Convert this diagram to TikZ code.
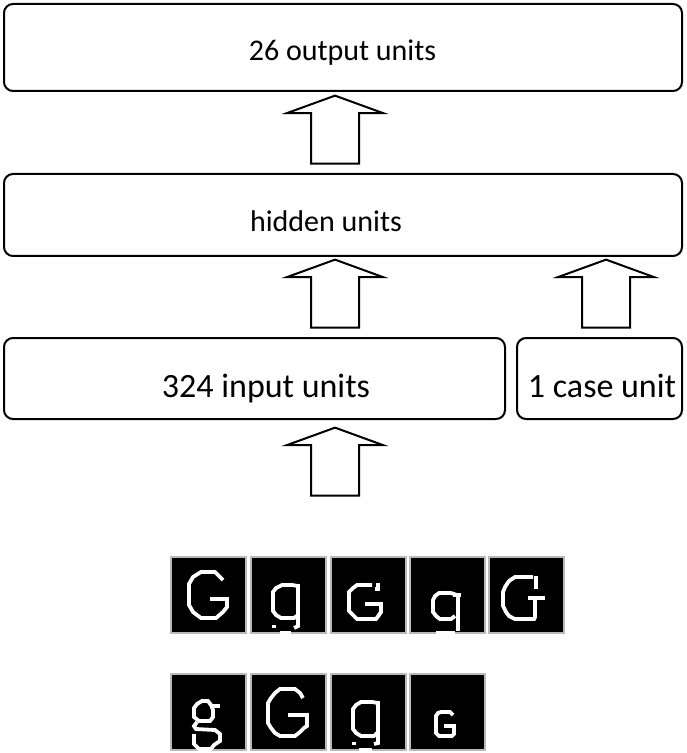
\documentclass[tikz,border=0pt]{standalone}
\usepackage{fontspec}
\setmainfont{Carlito}
\usetikzlibrary{shapes.arrows}

\begin{document}
\begin{tikzpicture}[x=0.5pt, y=-0.5pt,
    layer/.style={draw, rounded corners=4.5pt, line width=1pt, inner sep=0pt},
    lbl/.style={anchor=base, inner sep=0pt},
    blockup/.style={single arrow, draw, line width=1pt, rotate=90, inner sep=0pt,
      text height=23pt, text depth=0pt, minimum height=34pt,
      single arrow head extend=12pt, single arrow tip angle=140},
    tile/.style={fill=black, draw=gray!55, line width=0.6pt},
    glyph/.style={draw=white, line width=1.9pt, line join=miter}
  ]
  \useasboundingbox (0,0) rectangle (686,753);

  % Layers
  \node[layer, minimum width=339pt, minimum height=43.5pt] (out) at (343,47.5) {};
  \node[layer, minimum width=339pt, minimum height=41pt] (hid) at (343,215) {};
  \node[layer, minimum width=250.5pt, minimum height=40.5pt] (inp) at (254.5,378.5) {};
  \node[layer, minimum width=82.5pt, minimum height=40.5pt] (cas) at (599.5,378.5) {};

  % Labels
  \node[lbl, font=\fontsize{15}{18}\selectfont] (outtxt) at (342.5,61) {26 output units};
  \node[lbl, font=\fontsize{15}{18}\selectfont] (hidtxt) at (326,231.5) {hidden units};
  \node[lbl, font=\fontsize{17}{20}\selectfont] (inptxt) at (266,397) {324 input units};
  \node[lbl, font=\fontsize{17}{20}\selectfont] (castxt) at (602,397) {1 case unit};

  % Arrows
  \node[blockup] (a1) at (335,134) {};
  \node[blockup] (a2) at (335,298) {};
  \node[blockup] (a3) at (606,298) {};
  \node[blockup] (a4) at (335,466) {};

  % Letters, first row
  \begin{scope}[shift={(171,557)}]
    \path[tile] (0,0) rectangle (75,76);
    \clip (0,0) rectangle (75,76);
    \draw[glyph] (52,23) -- (48,19) -- (44,15) -- (30,15) -- (22,20) -- (18,27) -- (18,48)
      -- (22,55) -- (30,61) -- (45,61) -- (52,55) -- (56,50) -- (56,42) -- (39,42);
  \end{scope}
  \begin{scope}[shift={(251,557)}]
    \path[tile] (0,0) rectangle (75,76);
    \clip (0,0) rectangle (75,76);
    \draw[glyph] (47,29) -- (41,28) -- (31,28) -- (25,31) -- (22,35) -- (22,54) -- (25,58)
      -- (30,61) -- (43,61) -- (47,58);
    \draw[glyph] (47,27) -- (47,69) -- (43,71);
    \draw[glyph] (23,68) -- (23,71);
    \draw[glyph] (29,75.5) -- (40,75.5);
  \end{scope}
  \begin{scope}[shift={(331,557)}]
    \path[tile] (0,0) rectangle (75,76);
    \clip (0,0) rectangle (75,76);
    \draw[glyph] (41,28) -- (26,28) -- (22,31) -- (18,35) -- (18,54) -- (22,58) -- (26,62)
      -- (45,62) -- (48,58) -- (50,55) -- (50,47) -- (34,47);
    \draw[glyph] (47,26) -- (47,32) -- (44,32);
  \end{scope}
  \begin{scope}[shift={(410,557)}]
    \path[tile] (0,0) rectangle (75,76);
    \clip (0,0) rectangle (75,76);
    \draw[glyph] (47,38) -- (41,36) -- (29,36) -- (25,39) -- (23,43) -- (23,55) -- (26,59)
      -- (30,62) -- (41,62) -- (45,59);
    \draw[glyph] (48,37) -- (48,74);
    \draw[glyph] (43,38) -- (51,38);
    \draw[glyph] (26,75.5) -- (45,75.5);
  \end{scope}
  \begin{scope}[shift={(489,557)}]
    \path[tile] (0,0) rectangle (75,76);
    \clip (0,0) rectangle (75,76);
    \draw[glyph] (44,20) -- (26,20) -- (20,24) -- (16,30) -- (14,35) -- (14,49) -- (17,55)
      -- (20,59) -- (26,62) -- (45,62) -- (46,60) -- (46,41);
    \draw[glyph] (39,41) -- (56,41);
    \draw[glyph] (47,19) -- (47,32);
  \end{scope}

  % Letters, second row
  \begin{scope}[shift={(171,674)}]
    \path[tile] (0,0) rectangle (75,76);
    \clip (0,0) rectangle (75,76);
    \draw[glyph] (31,27) -- (37,27) -- (40,31) -- (42,36) -- (42,43) -- (39,47) -- (28,47)
      -- (23,43) -- (23,34) -- (26,30) -- cycle;
    \draw[glyph] (39,32) -- (49,32);
    \draw[glyph] (26,48) -- (23,52) -- (25,55) -- (44,56) -- (49,60) -- (49,67) -- (43,71)
      -- (40,75) -- (28,75) -- (23,70) -- (23,60);
  \end{scope}
  \begin{scope}[shift={(251,674)}]
    \path[tile] (0,0) rectangle (75,76);
    \clip (0,0) rectangle (75,76);
    \draw[glyph] (52,24) -- (49,19) -- (44,15) -- (29,15) -- (24,19) -- (20,24) -- (17,29)
      -- (17,49) -- (20,54) -- (24,59) -- (29,62) -- (44,62) -- (49,58) -- (53,54)
      -- (56,52) -- (56,41) -- (37,41);
  \end{scope}
  \begin{scope}[shift={(331,674)}]
    \path[tile] (0,0) rectangle (75,76);
    \clip (0,0) rectangle (75,76);
    \draw[glyph] (47,29) -- (41,28) -- (30,28) -- (25,31) -- (22,35) -- (22,55) -- (25,59)
      -- (30,62) -- (43,62) -- (47,58);
    \draw[glyph] (47,27) -- (47,69) -- (43,70);
    \draw[glyph] (23,68) -- (23,71);
    \draw[glyph] (28,75.5) -- (41,75.5);
  \end{scope}
  \begin{scope}[shift={(410,674)}]
    \path[tile] (0,0) rectangle (75,76);
    \clip (0,0) rectangle (75,76);
    \draw[glyph] (43,41) -- (40,38) -- (31,38) -- (28,39) -- (26,42) -- (26,59) -- (29,62)
      -- (42,62) -- (44,60) -- (44,52) -- (34,52);
  \end{scope}
\end{tikzpicture}
\end{document}
